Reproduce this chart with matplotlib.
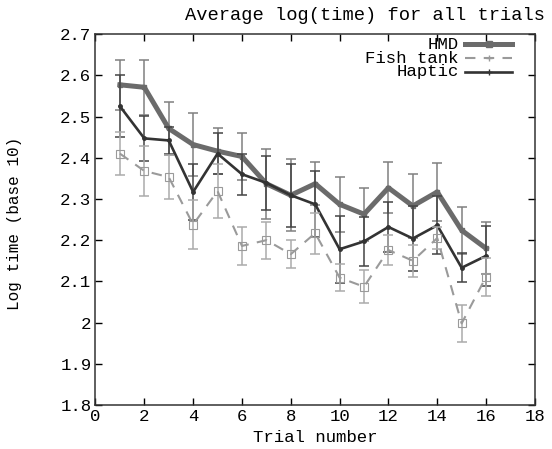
import numpy as np
import matplotlib
matplotlib.use("Agg")
import matplotlib.pyplot as plt

plt.rcParams['font.family'] = ['Liberation Mono', 'DejaVu Sans Mono']

# data
trials = np.arange(1, 17)
hmd = [2.577, 2.571, 2.471, 2.432, 2.416, 2.403, 2.337, 2.309,
       2.337, 2.287, 2.263, 2.327, 2.283, 2.317, 2.224, 2.180]
hmd_err = [0.061, 0.067, 0.064, 0.077, 0.055, 0.057, 0.085, 0.087,
           0.052, 0.066, 0.064, 0.062, 0.077, 0.071, 0.057, 0.063]
fish = [2.410, 2.368, 2.353, 2.238, 2.319, 2.186, 2.200, 2.166,
        2.217, 2.109, 2.087, 2.176, 2.150, 2.205, 1.998, 2.111]
fish_err = [0.053, 0.061, 0.054, 0.060, 0.065, 0.047, 0.045, 0.034,
            0.050, 0.032, 0.040, 0.036, 0.039, 0.027, 0.045, 0.046]
haptic = [2.525, 2.447, 2.442, 2.317, 2.410, 2.360, 2.339, 2.309,
          2.287, 2.178, 2.197, 2.232, 2.204, 2.236, 2.133, 2.162]
haptic_err = [0.075, 0.055, 0.032, 0.068, 0.050, 0.050, 0.065, 0.077,
              0.080, 0.081, 0.060, 0.060, 0.080, 0.070, 0.035, 0.073]

series = [
    ("HMD", hmd, hmd_err, dict(color='#6b6b6b', lw=3.6, ls='-', marker='s', ms=3.5, mfc='#6b6b6b'), '#808080'),
    ("Haptic", haptic, haptic_err, dict(color='#333333', lw=1.9, ls='-', marker='o', ms=2.5, mfc='#333333'), '#444444'),
    ("Fish tank", fish, fish_err, dict(color='#9a9a9a', lw=1.5, ls=(0, (5, 4)), marker='s', ms=5.5, mfc='none', mew=0.8), '#ababab'),
]

fig = plt.figure(figsize=(5.52, 4.49), dpi=100)
ax = fig.add_axes([0.173, 0.098, 0.796, 0.826])

for name, vals, err, style, ecol in series:
    ax.errorbar(trials, vals, yerr=err, fmt='none', ecolor=ecol, elinewidth=1.1,
                capsize=3.5, capthick=1.1)
    ax.plot(trials, vals, **style)

# legend drawn by hand, gnuplot style (text right-justified, sample to the right)
leg_rows = [("HMD", 0.973, series[0][3]), ("Fish tank", 0.935, series[2][3]), ("Haptic", 0.898, series[1][3])]
for label, ly, style in leg_rows:
    ax.text(0.827, ly, label, transform=ax.transAxes, ha='right', va='center', fontsize=12.5)
    st = dict(style)
    st.pop('marker')
    ax.plot([0.841, 0.948], [ly, ly], transform=ax.transAxes, **st, clip_on=False)
    ax.plot([0.895], [ly], transform=ax.transAxes, marker='+' if label != "HMD" else 's',
            ms=5, color=style['color'], mew=1.0, ls='none')

ax.set_xlim(0, 18)
ax.set_ylim(1.8, 2.7)
ax.set_xticks(np.arange(0, 19, 2))
ax.set_yticks(np.round(np.arange(1.8, 2.71, 0.1), 1))
ax.set_yticklabels(['1.8', '1.9', '2', '2.1', '2.2', '2.3', '2.4', '2.5', '2.6', '2.7'])
ax.tick_params(direction='in', top=True, right=True, length=5, width=1, labelsize=12.5, pad=3)
for s in ax.spines.values():
    s.set_linewidth(1.1)
    s.set_color('#333333')

ax.set_xlabel("Trial number", fontsize=12.5, labelpad=4)
ax.set_ylabel("Log time (base 10)", fontsize=11.5)
ax.yaxis.set_label_coords(-0.168, 0.49)
fig.text(0.988, 0.965, "Average log(time) for all trials", ha='right', va='center', fontsize=13.5)

fig.savefig("out.png", dpi=100)
